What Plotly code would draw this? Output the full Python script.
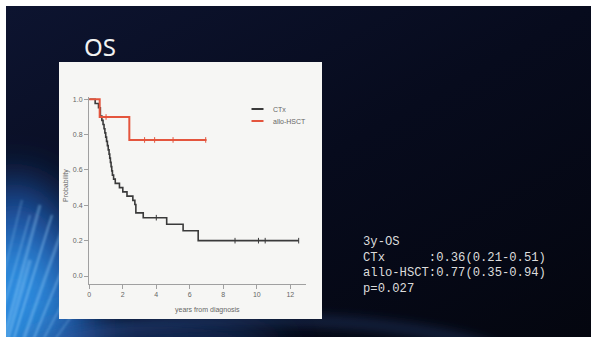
import base64
import plotly.graph_objects as go

# Kaplan-Meier overall survival, CTx arm (event times in years, survival after each step)
ctx_time = [0, 0.35, 0.55, 0.66, 0.75, 0.82, 0.88, 0.93, 0.98, 1.03, 1.08, 1.13, 1.18,
            1.22, 1.26, 1.30, 1.34, 1.38, 1.45, 1.55, 1.80, 2.00, 2.25, 2.60, 2.72,
            2.78, 3.22, 4.62, 5.60, 6.50, 12.5]
ctx_surv = [1.0, 0.976, 0.952, 0.905, 0.881, 0.857, 0.833, 0.810, 0.786, 0.762, 0.738,
            0.714, 0.690, 0.667, 0.643, 0.619, 0.595, 0.571, 0.548, 0.524, 0.500, 0.476,
            0.452, 0.428, 0.405, 0.357, 0.330, 0.293, 0.256, 0.200, 0.200]
ctx_cens_time = [4.0, 8.7, 10.1, 10.5, 12.5]
ctx_cens_surv = [0.330, 0.200, 0.200, 0.200, 0.200]

# allo-HSCT arm
hsct_time = [0, 0.62, 2.39, 7.0]
hsct_surv = [1.0, 0.90, 0.77, 0.77]
hsct_cens_time = [1.0, 3.3, 3.9, 5.0, 6.95]
hsct_cens_surv = [0.90, 0.77, 0.77, 0.77, 0.77]

x_ticks = [0, 2, 4, 6, 8, 10, 12]
y_ticks = [0.0, 0.2, 0.4, 0.6, 0.8, 1.0]

summary_lines = [
    "3y-OS",
    "CTx\u00a0\u00a0\u00a0\u00a0\u00a0\u00a0:0.36(0.21-0.51)",
    "allo-HSCT:0.77(0.35-0.94)",
    "p=0.027",
]

CTX_COLOR = "#3a3a3a"
HSCT_COLOR = "#e4553d"

W, H = 591, 338
ML, MR, MT, MB = 89, 285, 97, 54
PW, PH = W - ML - MR, H - MT - MB


def px(xp):
    return (xp - ML) / PW


def py(yp):
    return (H - MB - yp) / PH


# slide background: dark navy with blue light streaks in the lower-left
streaks = ""
for (x1, y1, x2, y2, w, op) in [
    (4, 338, 40, 205, 3, 0.35), (14, 338, 52, 215, 2, 0.45), (24, 338, 62, 230, 3, 0.35),
    (34, 338, 70, 250, 2, 0.4), (0, 320, 30, 215, 2, 0.3), (44, 338, 80, 270, 2, 0.3),
    (8, 338, 30, 260, 4, 0.3), (56, 338, 90, 290, 2, 0.25), (0, 290, 22, 200, 2, 0.25),
]:
    streaks += (f'<line x1="{x1}" y1="{y1}" x2="{x2}" y2="{y2}" stroke="#9fd8ff" '
                f'stroke-width="{w}" stroke-opacity="{op}" filter="url(#s)"/>')

FR = 'filterUnits="userSpaceOnUse" x="-300" y="-300" width="1200" height="1000"'
svg = f'''<svg xmlns="http://www.w3.org/2000/svg" width="{W}" height="{H}" viewBox="0 0 {W} {H}">
<defs>
<linearGradient id="base" x1="0" y1="0" x2="1" y2="1">
<stop offset="0" stop-color="#0d1430"/><stop offset="0.5" stop-color="#070b1d"/>
<stop offset="1" stop-color="#04060f"/></linearGradient>
<filter id="s" {FR}><feGaussianBlur stdDeviation="1.3"/></filter>
<filter id="b" {FR}><feGaussianBlur stdDeviation="6"/></filter>
<filter id="g" {FR}><feGaussianBlur stdDeviation="22"/></filter>
<clipPath id="slide"><rect x="6" y="6" width="{W-6}" height="{H-7}"/></clipPath>
</defs>
<rect width="{W}" height="{H}" fill="#ffffff"/>
<rect x="6" y="6" width="{W-6}" height="{H-7}" fill="url(#base)"/>
<g clip-path="url(#slide)">
<ellipse cx="15" cy="340" rx="80" ry="160" fill="#1a4f9c" filter="url(#g)"/>
<ellipse cx="15" cy="335" rx="50" ry="100" fill="#2f8ee0" filter="url(#g)"/>
<ellipse cx="150" cy="350" rx="130" ry="24" fill="#1a3f80" opacity="0.8" filter="url(#g)"/>
<ellipse cx="260" cy="372" rx="260" ry="52" fill="none" stroke="#3a5fa8" stroke-opacity="0.4"
 stroke-width="8" filter="url(#b)"/>
{streaks}
</g>
<rect x="0" y="0" width="6" height="{H}" fill="#ffffff"/>
<rect x="0" y="0" width="{W}" height="6" fill="#ffffff"/>
<rect x="0" y="{H-1}" width="{W}" height="1" fill="#ffffff"/>
</svg>'''
bg_uri = "data:image/svg+xml;base64," + base64.b64encode(svg.encode()).decode()

fig = go.Figure()

fig.add_trace(go.Scatter(x=ctx_time, y=ctx_surv, mode="lines", line_shape="hv",
                         line=dict(color=CTX_COLOR, width=1.6), name="CTx",
                         showlegend=False))
fig.add_trace(go.Scatter(x=hsct_time, y=hsct_surv, mode="lines", line_shape="hv",
                         line=dict(color=HSCT_COLOR, width=2), name="allo-HSCT",
                         showlegend=False))
fig.add_trace(go.Scatter(x=ctx_cens_time, y=ctx_cens_surv, mode="markers",
                         marker=dict(symbol="line-ns-open", size=4, color=CTX_COLOR,
                                     line=dict(color=CTX_COLOR, width=1)),
                         showlegend=False, hoverinfo="skip"))
fig.add_trace(go.Scatter(x=hsct_cens_time, y=hsct_cens_surv, mode="markers",
                         marker=dict(symbol="line-ns-open", size=4, color=HSCT_COLOR,
                                     line=dict(color=HSCT_COLOR, width=1)),
                         showlegend=False, hoverinfo="skip"))

axis_font = dict(family="Liberation Sans, Arial", size=7, color="#666666")

x_min = -0.3 / 16.75
x_max = x_min + PW / 16.75
y_min = -8 / 176.7
y_max = y_min + PH / 176.7

fig.update_xaxes(range=[x_min, x_max], tickvals=x_ticks, ticktext=[str(v) for v in x_ticks],
                 showgrid=False, zeroline=False, showline=True, linecolor="#a0a0a0",
                 linewidth=1, ticks="outside", ticklen=4, tickcolor="#a0a0a0",
                 tickfont=axis_font, fixedrange=True)
fig.update_yaxes(range=[y_min, y_max], tickvals=y_ticks,
                 ticktext=[f"{v:.1f}" for v in y_ticks],
                 showgrid=False, zeroline=False, showline=True, linecolor="#a0a0a0",
                 linewidth=1, ticks="outside", ticklen=4, tickcolor="#a0a0a0",
                 tickfont=axis_font, fixedrange=True)

shapes = [
    # white chart panel
    dict(type="rect", xref="paper", yref="paper", x0=px(59), x1=px(322), y0=py(319),
         y1=py(62), fillcolor="#f6f6f4", line=dict(width=0), layer="below"),
    # legend keys
    dict(type="line", xref="paper", yref="paper", x0=px(251.5), x1=px(263.5), y0=py(109),
         y1=py(109), line=dict(color=CTX_COLOR, width=2)),
    dict(type="line", xref="paper", yref="paper", x0=px(251.5), x1=px(263.5), y0=py(121),
         y1=py(121), line=dict(color=HSCT_COLOR, width=2)),
]

annotations = [
    dict(text="CTx", x=px(271), y=py(109), xref="paper", yref="paper", xanchor="left",
         yanchor="middle", showarrow=False, font=axis_font),
    dict(text="allo-HSCT", x=px(271), y=py(121), xref="paper", yref="paper",
         xanchor="left", yanchor="middle", showarrow=False, font=axis_font),
    dict(text="Probability", x=px(66), y=py(186), xref="paper", yref="paper",
         textangle=-90, xanchor="center", yanchor="middle", showarrow=False,
         font=axis_font),
    dict(text="years from diagnosis", x=px(207), y=py(310), xref="paper", yref="paper",
         xanchor="center", yanchor="middle", showarrow=False, font=axis_font),
    dict(text="OS", x=px(82), y=py(46), xref="paper", yref="paper", xanchor="left",
         yanchor="middle", showarrow=False,
         font=dict(family="Noto Sans, Open Sans", size=24, color="#f2f2f2")),
]
for i, line in enumerate(summary_lines):
    annotations.append(dict(text=line, x=px(361), y=py(242 + 15.5 * i), xref="paper",
                            yref="paper", xanchor="left", yanchor="middle",
                            showarrow=False,
                            font=dict(family="Liberation Mono, DejaVu Sans Mono",
                                      size=12.2, color="#dcdcdc")))

fig.update_layout(
    width=W, height=H,
    margin=dict(l=ML, r=MR, t=MT, b=MB, pad=0),
    paper_bgcolor="#070b1d",
    plot_bgcolor="rgba(0,0,0,0)",
    shapes=shapes,
    annotations=annotations,
    images=[dict(source=bg_uri, xref="paper", yref="paper", x=-ML / PW, y=1 + MT / PH,
                 sizex=W / PW, sizey=H / PH, xanchor="left", yanchor="top",
                 sizing="stretch", layer="below")],
    showlegend=False,
)

fig.write_html("out.html", config={"displayModeBar": False})
